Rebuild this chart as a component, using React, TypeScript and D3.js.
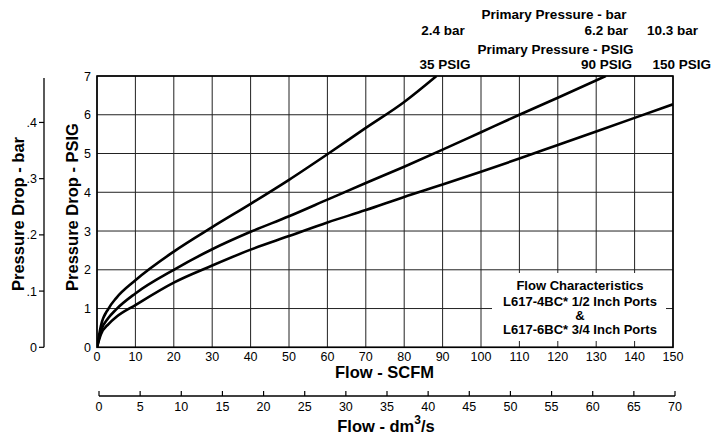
import React from "react";
import * as d3 from "d3";

const scfmTicks = [0, 10, 20, 30, 40, 50, 60, 70, 80, 90, 100, 110, 120, 130, 140, 150];
const dmTicks = [0, 5, 10, 15, 20, 25, 30, 35, 40, 45, 50, 55, 60, 65, 70];
const psigTicks = [0, 1, 2, 3, 4, 5, 6, 7];
const barTicks = [0, 0.1, 0.2, 0.3, 0.4];
const barTickLabels = ["0", ".1", ".2", ".3", ".4"];

const flow35 = [0, 1, 3, 5, 10, 20, 30, 40, 50, 60, 70, 80, 88.4];
const drop35 = [0, 0.55, 1.0, 1.27, 1.73, 2.47, 3.1, 3.7, 4.32, 4.98, 5.66, 6.33, 7];
const flow90 = [0, 1, 3, 5, 10, 20, 30, 40, 50, 60, 70, 80, 90, 100, 110, 120, 132.5];
const drop90 = [0, 0.42, 0.76, 0.98, 1.39, 2.0, 2.53, 2.98, 3.38, 3.81, 4.24, 4.66, 5.1, 5.55, 6.0, 6.44, 7];
const flow150 = [0, 1, 3, 5, 10, 20, 30, 40, 50, 60, 70, 80, 90, 100, 110, 120, 130, 140, 150];
const drop150 = [0, 0.33, 0.6, 0.78, 1.09, 1.67, 2.11, 2.52, 2.87, 3.22, 3.54, 3.88, 4.2, 4.53, 4.87, 5.22, 5.57, 5.92, 6.27];

const legendLines = [
  "Flow Characteristics",
  "L617-4BC* 1/2 Inch Ports",
  "&",
  "L617-6BC* 3/4 Inch Ports",
];

const FONT = "'Liberation Sans', Arial, Helvetica, sans-serif";

export default function App() {
  const x = d3.scaleLinear().domain([0, 150]).range([97, 673]);
  const y = d3.scaleLinear().domain([0, 7]).range([347.3, 76]);
  const yBar = d3.scaleLinear().domain([0, 7 / 14.5038]).range([347.3, 76]);
  const xDm = d3.scaleLinear().domain([0, 70]).range([99, 675]);

  const line = d3
    .line<[number, number]>()
    .x((d) => x(d[0]))
    .y((d) => y(d[1]))
    .curve(d3.curveMonotoneX);

  const series = [
    flow35.map((f, i) => [f, drop35[i]] as [number, number]),
    flow90.map((f, i) => [f, drop90[i]] as [number, number]),
    flow150.map((f, i) => [f, drop150[i]] as [number, number]),
  ];

  const [x0, x1] = x.range();
  const [y0, y1] = y.range();

  return (
    <svg
      width={713}
      height={438}
      style={{ position: "absolute", left: 0, top: 0, background: "#fff" }}
      fontFamily={FONT}
    >
      <defs>
        <clipPath id="plotclip">
          <rect x={x0} y={y1} width={x1 - x0} height={y0 - y1} />
        </clipPath>
      </defs>
      <rect x={0} y={0} width={713} height={438} fill="#fff" />

      {/* grid */}
      {scfmTicks.map((t) => (
        <line key={"gx" + t} x1={x(t)} x2={x(t)} y1={y1} y2={y0} stroke="#222" strokeWidth={1} />
      ))}
      {psigTicks.map((t) => (
        <line key={"gy" + t} x1={x0} x2={x1} y1={y(t)} y2={y(t)} stroke="#222" strokeWidth={1} />
      ))}

      {/* legend box */}
      <rect x={492} y={273} width={174} height={68} fill="#fff" />
      {legendLines.map((s, i) => (
        <text
          key={s}
          x={580}
          y={[289.5, 306, 319.5, 334][i]}
          textAnchor="middle"
          fontSize={13}
          fontWeight="bold"
        >
          {s}
        </text>
      ))}

      {/* curves */}
      <g clipPath="url(#plotclip)">
        {series.map((s, i) => (
          <path key={i} d={line(s) || ""} fill="none" stroke="#000" strokeWidth={2.6} />
        ))}
      </g>

      {/* frame */}
      <rect x={x0} y={y1} width={x1 - x0} height={y0 - y1} fill="none" stroke="#000" strokeWidth={1.6} />

      {/* PSIG tick labels */}
      {psigTicks.map((t) => (
        <text key={"ly" + t} x={91} y={y(t) + 4.5} textAnchor="end" fontSize={12.5}>
          {t}
        </text>
      ))}
      {/* SCFM tick labels */}
      {scfmTicks.map((t) => (
        <text key={"lx" + t} x={x(t)} y={361} textAnchor="middle" fontSize={12.5}>
          {t}
        </text>
      ))}

      {/* bar axis */}
      <line x1={44} x2={44} y1={78} y2={yBar(0)} stroke="#000" strokeWidth={1.3} />
      {barTicks.map((t, i) => (
        <g key={"bt" + t}>
          <line x1={39} x2={44} y1={yBar(t)} y2={yBar(t)} stroke="#000" strokeWidth={1.2} />
          <text x={37} y={yBar(t) + 4.5} textAnchor="end" fontSize={12.5}>
            {barTickLabels[i]}
          </text>
        </g>
      ))}

      {/* dm3/s axis */}
      <line x1={xDm(0)} x2={xDm(70)} y1={396} y2={396} stroke="#000" strokeWidth={1.3} />
      {dmTicks.map((t) => (
        <g key={"dt" + t}>
          <line x1={xDm(t)} x2={xDm(t)} y1={391} y2={396} stroke="#000" strokeWidth={1.2} />
          <text x={xDm(t)} y={411} textAnchor="middle" fontSize={12.5}>
            {t}
          </text>
        </g>
      ))}

      {/* axis titles */}
      <text x={384.5} y={378} textAnchor="middle" fontSize={16.5} fontWeight="bold">
        Flow - SCFM
      </text>
      <text x={386} y={432} textAnchor="middle" fontSize={16.5} fontWeight="bold">
        Flow - dm<tspan dy={-8} fontSize={12}>3</tspan>
        <tspan dy={8}>/s</tspan>
      </text>
      <text
        transform="translate(78,207) rotate(-90)"
        textAnchor="middle"
        fontSize={16.5}
        fontWeight="bold"
      >
        Pressure Drop - PSIG
      </text>
      <text
        transform="translate(24,214) rotate(-90)"
        textAnchor="middle"
        fontSize={16.5}
        fontWeight="bold"
      >
        Pressure Drop - bar
      </text>

      {/* top labels */}
      <text x={554} y={19} textAnchor="middle" fontSize={13.5} fontWeight="bold">
        Primary Pressure - bar
      </text>
      <text x={443} y={35} textAnchor="middle" fontSize={13.5} fontWeight="bold">
        2.4 bar
      </text>
      <text x={628} y={35} textAnchor="end" fontSize={13.5} fontWeight="bold">
        6.2 bar
      </text>
      <text x={698} y={35} textAnchor="end" fontSize={13.5} fontWeight="bold">
        10.3 bar
      </text>
      <text x={555.5} y={53.5} textAnchor="middle" fontSize={13.5} fontWeight="bold">
        Primary Pressure - PSIG
      </text>
      <text x={445} y={68.5} textAnchor="middle" fontSize={13.5} fontWeight="bold">
        35 PSIG
      </text>
      <text x={632} y={68.5} textAnchor="end" fontSize={13.5} fontWeight="bold">
        90 PSIG
      </text>
      <text x={711} y={68.5} textAnchor="end" fontSize={13.5} fontWeight="bold">
        150 PSIG
      </text>
    </svg>
  );
}
